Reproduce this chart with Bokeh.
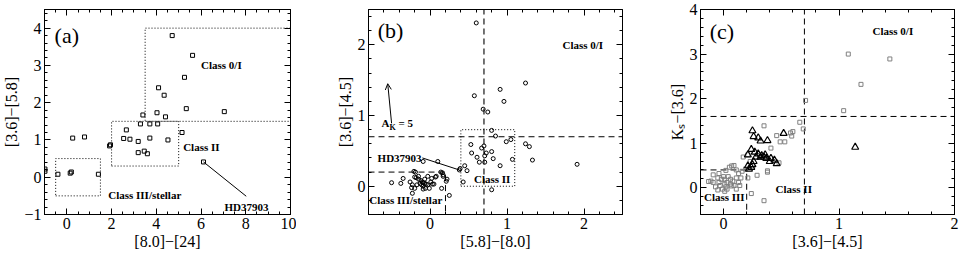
from bokeh.plotting import figure
from bokeh.layouts import row
from bokeh.models import (LinearAxis, SingleIntervalTicker, CustomJSTickFormatter,
                          Range1d, Arrow, OpenHead)
from bokeh.embed import file_html
from bokeh.resources import INLINE
from bokeh.core.properties import value

SERIF = "Liberation Serif"

# ---------------- Panel (a): [8.0]-[24] vs [3.6]-[5.8] ----------------
a_x = [4.71, 5.62, 5.26, 4.10, 4.35, 5.34, 7.04, 4.03, 3.40, 4.41, 3.29, 3.71,
       4.06, 2.66, 5.15, 2.54, 2.82, 3.71, 3.19, 4.52, 1.95, 1.91, 3.19, 3.46,
       3.60, 6.11, 0.26, 0.79, -0.98, -0.98, -0.40, 0.15, 0.20, 1.41]
a_y = [3.80, 3.27, 2.68, 2.40, 2.20, 1.84, 1.76, 1.73, 1.67, 1.62, 1.43, 1.43,
       1.43, 1.27, 1.20, 1.04, 1.02, 1.05, 0.96, 1.00, 0.87, 0.84, 0.66, 0.70,
       0.63, 0.41, 1.05, 1.08, 0.22, 0.16, 0.08, 0.11, 0.14, 0.08]
# class regions (x0, x1, y0, y1)
a_box_III = (-0.5, 1.5, -0.5, 0.5)
a_box_II = (2.0, 5.0, 0.3, 1.5)
a_box_0I = (3.5, 10.0, 1.5, 4.0)
a_hd = (6.11, 0.41)

# ---------------- Panel (b): [5.8]-[8.0] vs [3.6]-[4.5] ----------------
b_x = [0.60, 0.575, 1.24, 0.91, 0.96, 0.69, 0.75, 0.80, 0.85, 0.99, 1.05, 1.24,
       1.29, 0.53, 0.70, 0.67, 0.80, 0.54, 0.73, 0.71, 0.61, 0.82, 1.07, 1.33,
       0.64, 0.71, 0.91, 1.91, 0.45, 0.39, 0.38, 0.48, 0.43, 0.80, -0.09, 0.10,
       -0.50, -0.38, -0.35, -0.26, -0.23, -0.24, -0.23, -0.21, -0.19, -0.20,
       -0.18, -0.15, -0.12, -0.10, -0.09, -0.07, -0.05, -0.03, -0.13, -0.11,
       -0.09, -0.06, -0.01, 0.01, 0.03, 0.05, 0.02, 0.07, 0.08, 0.14, 0.16,
       0.17, 0.17, 0.22, 0.21, 0.15, 0.25, -0.09, -0.15, -0.03, -0.07, -0.17,
       -0.20]
b_y = [2.31, 1.28, 1.46, 1.37, 1.20, 1.09, 1.05, 0.79, 0.71, 0.63, 0.66, 0.60,
       0.56, 0.59, 0.57, 0.54, 0.49, 0.47, 0.47, 0.43, 0.41, 0.39, 0.38, 0.37,
       0.34, 0.34, 0.29, 0.31, 0.29, 0.25, 0.23, 0.22, 0.06, -0.05, 0.35, 0.35,
       0.05, 0.04, 0.11, 0.06, 0.02, -0.02, -0.10, 0.21, 0.20, 0.13,
       0.12, 0.10, 0.08, 0.06, 0.05, 0.04, 0.03, 0.02, 0.04, 0.02,
       0.00, -0.03, -0.03, 0.06, 0.03, 0.03, 0.11, 0.13, 0.14, 0.20, 0.19,
       0.16, 0.14, 0.10, 0.07, -0.03, -0.13, -0.04, 0.14, 0.14, 0.10, 0.02,
       -0.03]
b_cut = 0.7
b_III = 0.2
b_box_II = (0.4, 1.1, 0.0, 0.8)
b_hd = (0.38, 0.23)
b_redvec = (-0.50, 0.89, -0.55, 1.45)

# ---------------- Panel (c): [3.6]-[4.5] vs Ks-[3.6] ----------------
c_sq_x = [1.08, 1.44, 1.19, 1.04, 0.71, 0.66, 0.69, 0.60, 0.58, 0.59, 0.46, 0.49,
          0.53, 0.35, 0.41, 0.48, 0.38, 0.38, 0.29, 0.24, 0.35, 0.21, 0.19, 0.17,
          0.21, 0.23, 0.25,
          -0.13, -0.09, -0.05, -0.04, -0.02, 0.00, 0.01, 0.02, 0.03, 0.02, 0.05,
          0.07, 0.09, 0.11, 0.13, 0.11, 0.08, 0.06, 0.07, 0.09, 0.13, 0.14, 0.11,
          -0.01, -0.07, -0.09, -0.11, -0.04, 0.04, 0.06, 0.03, 0.01, -0.05, 0.16,
          0.15, 0.01, -0.03]
c_sq_y = [3.00, 2.89, 2.32, 1.73, 1.96, 1.47, 1.32, 1.26, 1.23, 1.16, 1.17, 1.03,
          1.03, 1.39, 0.89, 0.56, 0.35, 0.38, 0.28, -0.13, -0.29, 0.22, 0.42, 0.69,
          0.74, 0.59, 0.49,
          0.14, 0.29, 0.22, 0.12, 0.19, 0.25, 0.08, 0.02, -0.03, 0.39, 0.46,
          0.49, 0.50, 0.40, 0.32, 0.22, 0.15, 0.08, 0.04, 0.05, 0.12, 0.05, -0.03,
          -0.03, 0.02, 0.12, 0.15, 0.32, 0.25, 0.19, 0.12, -0.08, -0.05, 0.37,
          0.22, 0.19, 0.05]
c_tri_x = [0.25, 0.26, 0.30, 0.32, 0.38, 0.52, 1.14, 0.24, 0.27, 0.21, 0.30, 0.33,
           0.36, 0.35, 0.37, 0.41, 0.44, 0.46, 0.40, 0.26, 0.28, 0.21, 0.24, 0.22,
           0.25, 0.32]
c_tri_y = [1.28, 1.15, 1.12, 1.05, 1.06, 1.22, 0.91, 0.86, 0.80, 0.74, 0.76, 0.72,
           0.74, 0.69, 0.66, 0.66, 0.62, 0.54, 0.59, 0.59, 0.69, 0.49, 0.46, 0.42,
           0.52, 0.69]
c_cut_x = 0.7
c_cut_y = 1.6
c_III_x = 0.2
c_III_y = 0.4

TICK_JS = "return tick < 0 ? '\u2212' + Math.abs(tick) : String(tick);"
BLANK_JS = "return '';"


def make_fig(width, xr, yr, xint, xminor, yint, yminor, xlabel, ylabel,
             left_border, right_border):
    p = figure(width=width, height=252, x_range=Range1d(*xr), y_range=Range1d(*yr),
               output_backend="svg", toolbar_location=None,
               x_axis_type=None, y_axis_type=None,
               min_border_left=left_border, min_border_right=right_border,
               min_border_top=9, min_border_bottom=0)
    p.outline_line_color = "black"
    p.outline_line_width = 1
    xt = SingleIntervalTicker(interval=xint, num_minor_ticks=xminor)
    yt = SingleIntervalTicker(interval=yint, num_minor_ticks=yminor)
    for loc, t, lab in [("below", xt, xlabel), ("left", yt, ylabel),
                        ("above", xt, None), ("right", yt, None)]:
        ax = LinearAxis(ticker=t)
        ax.major_tick_in = 6
        ax.major_tick_out = 0
        ax.minor_tick_in = 3
        ax.minor_tick_out = 0
        ax.axis_line_color = "black"
        ax.major_tick_line_color = "black"
        ax.minor_tick_line_color = "black"
        if lab is not None:
            ax.axis_label = lab
            ax.axis_label_text_font = SERIF
            ax.axis_label_text_font_size = "16px"
            ax.axis_label_text_font_style = "normal"
            ax.axis_label_text_color = "black"
            ax.axis_label_standoff = 1
            ax.major_label_text_font = SERIF
            ax.major_label_text_font_size = "16px"
            ax.major_label_text_color = "black"
            ax.major_label_standoff = 3
            ax.formatter = CustomJSTickFormatter(code=TICK_JS)
        else:
            ax.formatter = CustomJSTickFormatter(code=BLANK_JS)
            ax.major_label_standoff = 0
            ax.major_label_text_font_size = "1px"
        p.add_layout(ax, loc)
    return p


def txt(p, x, y, s, size="11px", style="bold", align="left", baseline="middle",
        dx=0, dy=0):
    p.text(x=[x], y=[y], text=[s], text_font=value(SERIF), text_font_size=size,
           text_font_style=style, text_align=align, text_baseline=baseline,
           text_color="black", x_offset=dx, y_offset=dy)


def box(p, b, dash="1 2"):
    x0, x1, y0, y1 = b
    p.line(x=[x0, x1, x1, x0, x0], y=[y0, y0, y1, y1, y0], line_color="black",
           line_width=1, line_dash=dash)


# ---------------- build panel (a) ----------------
pa = make_fig(296, (-1, 10), (-1, 4.5), 2, 4, 1, 5, "[8.0]\u2212[24]", "[3.6]\u2212[5.8]", 36, 6)
box(pa, a_box_III)
box(pa, a_box_II)
x0, x1, y0, y1 = a_box_0I
pa.line(x=[x1, x0, x0, x1], y=[y1, y1, y0, y0], line_color="black", line_width=1, line_dash="1 2")
pa.scatter(a_x, a_y, marker="square", size=4, fill_color=None, line_color="black", line_width=1)
pa.segment(x0=[a_hd[0]], y0=[a_hd[1]], x1=[8.02], y1=[-0.51], line_color="black", line_width=1)
txt(pa, -0.55, 3.8, "(a)", size="22px", style="normal")
txt(pa, 6.0, 3.0, "Class 0/I")
txt(pa, 5.2, 0.82, "Class II")
txt(pa, 1.85, -0.47, "Class III/stellar")
txt(pa, 7.05, -0.8, "HD37903")

# ---------------- build panel (b) ----------------
pb = make_fig(332, (-0.8, 2.5), (-0.4, 2.5), 1, 5, 1, 5, "[5.8]\u2212[8.0]", "[3.6]\u2212[4.5]", 72, 6)
pb.line(x=[-0.8, 2.5], y=[b_cut, b_cut], line_color="black", line_width=1, line_dash="6 4")
pb.line(x=[b_cut, b_cut], y=[-0.4, 2.5], line_color="#444444", line_width=1.5, line_dash="6 4")
pb.line(x=[-0.8, b_III, b_III], y=[b_III, b_III, -0.4], line_color="black", line_width=1, line_dash="6 4")
box(pb, b_box_II)
pb.scatter(b_x, b_y, marker="circle", size=4, fill_color=None, line_color="black", line_width=1)
pb.segment(x0=[-0.10], y0=[0.40], x1=[b_hd[0]], y1=[b_hd[1]], line_color="black", line_width=1)
pb.add_layout(Arrow(end=OpenHead(size=6, line_width=1, line_color="black"),
                    x_start=b_redvec[0], y_start=b_redvec[1], x_end=b_redvec[2], y_end=b_redvec[3],
                    line_color="black", line_width=1))
txt(pb, -0.68, 2.2, "(b)", size="22px", style="normal")
txt(pb, 1.72, 2.0, "Class 0/I")
txt(pb, 0.57, 0.10, "Class II")
txt(pb, -0.79, -0.2, "Class III/stellar")
txt(pb, -0.11, 0.40, "HD37903", align="right")
txt(pb, -0.63, 0.89, "A")
txt(pb, -0.63, 0.89, "K", size="8px", dx=8, dy=4)
txt(pb, -0.63, 0.89, "=  5", dx=17)

# ---------------- build panel (c) ----------------
pc = make_fig(334, (-0.2, 2.0), (-0.6, 4.0), 1, 5, 1, 5, "[3.6]\u2212[4.5]", "K\u209b\u2212[3.6]", 72, 8)
pc.line(x=[c_cut_x, c_cut_x], y=[-0.6, 4.0], line_color="black", line_width=1, line_dash="6 4")
pc.line(x=[-0.2, 2.0], y=[c_cut_y, c_cut_y], line_color="black", line_width=1, line_dash="6 4")
pc.line(x=[-0.2, c_III_x, c_III_x], y=[c_III_y, c_III_y, -0.6], line_color="black", line_width=1, line_dash="6 4")
pc.scatter(c_sq_x, c_sq_y, marker="square", size=4, fill_color=None, line_color="#808080", line_width=1)
pc.scatter(c_tri_x, c_tri_y, marker="triangle", size=7, fill_color=None, line_color="black", line_width=1.2)
txt(pc, -0.12, 3.5, "(c)", size="22px", style="normal")
txt(pc, 1.29, 3.52, "Class 0/I")
txt(pc, 0.45, -0.02, "Class II")
txt(pc, -0.17, -0.2, "Class III")

layout = row(pa, pb, pc)
open("out.html", "w").write(file_html(layout, INLINE))
